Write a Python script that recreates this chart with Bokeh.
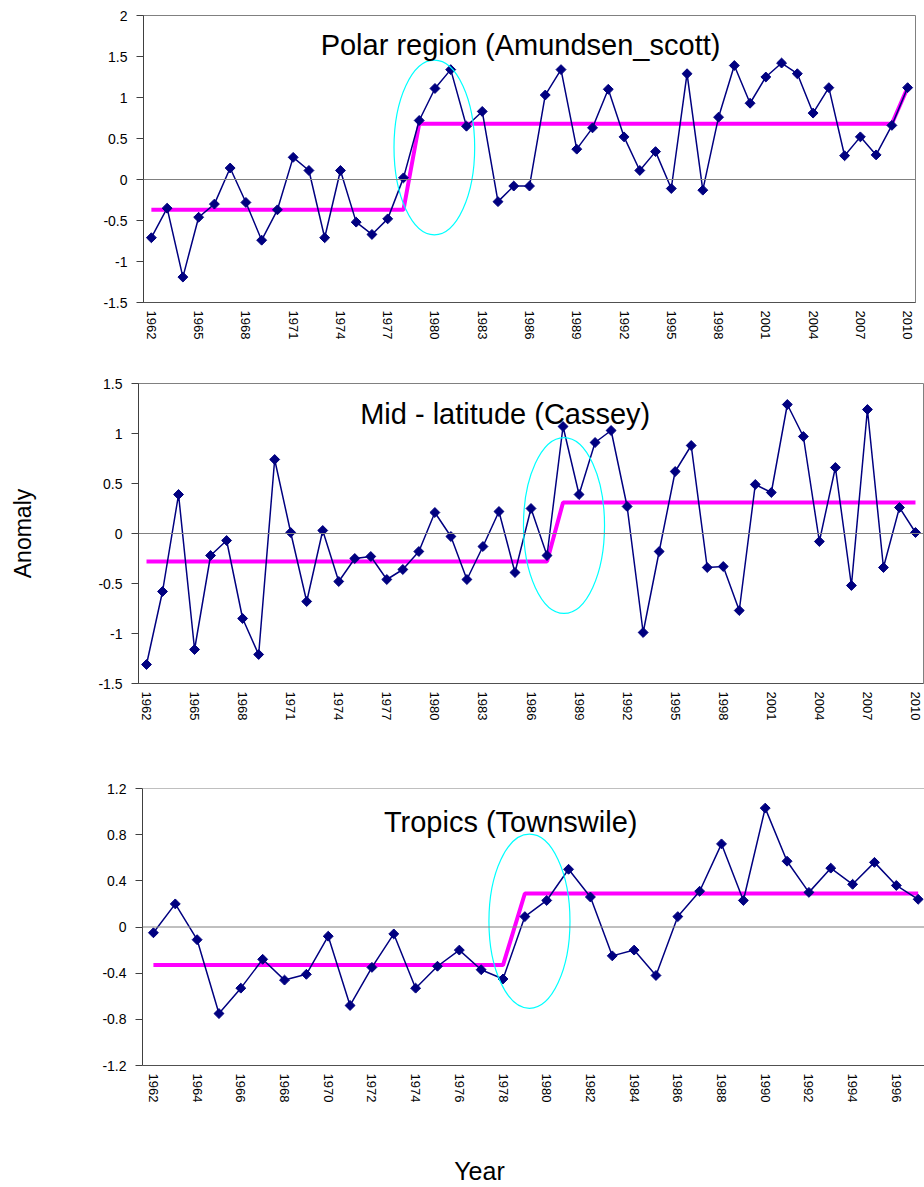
import math
from bokeh.plotting import figure
from bokeh.layouts import column
from bokeh.models import Range1d, FixedTicker, CustomJSTickFormatter, Span, Label
from bokeh.embed import file_html
from bokeh.resources import INLINE

# ---------------- data ----------------
years_long = list(range(1962, 2011))
years_trop = list(range(1962, 1998))

polar_vals = [-0.71, -0.35, -1.19, -0.46, -0.30, 0.14, -0.28, -0.74, -0.37, 0.27,
              0.11, -0.71, 0.11, -0.52, -0.67, -0.48, 0.02, 0.72, 1.11, 1.34,
              0.65, 0.83, -0.27, -0.08, -0.08, 1.03, 1.34, 0.37, 0.63, 1.10,
              0.52, 0.11, 0.34, -0.11, 1.29, -0.13, 0.76, 1.39, 0.93, 1.25,
              1.42, 1.29, 0.81, 1.12, 0.29, 0.52, 0.30, 0.66, 1.12]
mid_vals = [-1.31, -0.58, 0.39, -1.16, -0.22, -0.07, -0.85, -1.21, 0.74, 0.01,
            -0.68, 0.03, -0.48, -0.25, -0.23, -0.46, -0.36, -0.18, 0.21, -0.03,
            -0.46, -0.13, 0.22, -0.39, 0.25, -0.22, 1.07, 0.39, 0.91, 1.03,
            0.27, -0.99, -0.18, 0.62, 0.88, -0.34, -0.33, -0.77, 0.49, 0.41,
            1.29, 0.97, -0.08, 0.66, -0.52, 1.24, -0.34, 0.26, 0.01]
trop_vals = [-0.05, 0.20, -0.11, -0.75, -0.53, -0.28, -0.46, -0.41, -0.08, -0.68,
             -0.35, -0.06, -0.53, -0.34, -0.20, -0.37, -0.45, 0.09, 0.23, 0.50,
             0.26, -0.25, -0.20, -0.42, 0.09, 0.31, 0.72, 0.23, 1.03, 0.57,
             0.30, 0.51, 0.37, 0.56, 0.36, 0.24]

polar_step_x = [1962, 1978, 1979, 2009, 2010]
polar_step_y = [-0.37, -0.37, 0.68, 0.68, 1.12]
mid_step_x = [1962, 1987, 1988, 2010]
mid_step_y = [-0.28, -0.28, 0.31, 0.31]
trop_step_x = [1962, 1978, 1979, 1997]
trop_step_y = [-0.33, -0.33, 0.29, 0.29]

# highlighted change-point ellipses: centre year, centre value, width (years), height
polar_ell = [1979.96, 0.39, 5.12, 2.13]
mid_ell = [1988.06, 0.08, 5.06, 1.76]
trop_ell = [1979.21, 0.05, 3.71, 1.51]

titles = ["Polar region (Amundsen_scott)", "Mid - latitude (Cassey)", "Tropics (Townswile)"]
polar_yticks = [-1.5, -1, -0.5, 0, 0.5, 1, 1.5, 2]
mid_yticks = [-1.5, -1, -0.5, 0, 0.5, 1, 1.5]
trop_yticks = [-1.2, -0.8, -0.4, 0, 0.4, 0.8, 1.2]
long_xticks = list(range(1962, 2011, 3))
trop_xticks = list(range(1962, 1997, 2))

FONT = "Liberation Sans"
NAVY = "#000080"
MAG = "#FF00FF"
CYAN = "#00FFFF"


def make_panel(width, height, left, right, top, bottom, xr, yr, xticks, yticks, outline=True):
    p = figure(width=width, height=height, output_backend="svg", toolbar_location=None,
               x_range=Range1d(*xr), y_range=Range1d(*yr),
               min_border_left=left, min_border_right=right,
               min_border_top=top, min_border_bottom=bottom, frame_align=False)
    p.grid.visible = False
    p.background_fill_color = "white"
    p.border_fill_color = "white"
    p.outline_line_color = "#808080" if outline else None
    p.outline_line_width = 1
    fmt = CustomJSTickFormatter(code="return (Math.round(tick*100)/100).toString();")
    yax = p.yaxis[0]
    yax.ticker = FixedTicker(ticks=yticks)
    yax.formatter = fmt
    yax.major_tick_out = 7
    yax.major_tick_in = 0
    yax.minor_tick_line_color = None
    yax.axis_line_color = "#404040"
    yax.major_tick_line_color = "#404040"
    yax.major_label_text_font = FONT
    yax.major_label_text_font_size = "14px"
    yax.major_label_text_color = "black"
    yax.major_label_standoff = 9
    xax = p.xaxis[0]
    xax.ticker = FixedTicker(ticks=xticks)
    xax.formatter = CustomJSTickFormatter(code="return Math.round(tick).toString();")
    xax.major_tick_out = 0
    xax.major_tick_in = 0
    xax.minor_tick_line_color = None
    xax.axis_line_color = "#505050"
    xax.major_label_orientation = "vertical"
    xax.major_label_text_font = FONT
    xax.major_label_text_font_size = "13px"
    xax.major_label_text_color = "black"
    xax.major_label_standoff = 8
    p.add_layout(Span(location=0, dimension="width", line_color="#808080", line_width=1))
    return p


def draw_series(p, xs, ys, sx, sy, ell):
    p.line(sx, sy, line_color=MAG, line_width=4)
    p.line(xs, ys, line_color=NAVY, line_width=1.5)
    p.scatter(xs, ys, marker="square", angle=math.pi / 4, size=7,
              fill_color=NAVY, line_color=NAVY)
    p.ellipse(x=[ell[0]], y=[ell[1]], width=[ell[2]], height=[ell[3]],
              fill_color=None, line_color=CYAN, line_width=1.2)


def add_title(p, text, x, y):
    p.add_layout(Label(x=x, y=y, text=text, text_font=FONT, text_font_size="29px",
                       text_color="black", text_align="center", text_baseline="alphabetic"))


# Panel 1
p1 = make_panel(924, 345, 143, 9, 15, 43, (1961.5, 2010.5), (-1.5, 2),
                long_xticks, polar_yticks)
draw_series(p1, years_long, polar_vals, polar_step_x, polar_step_y, polar_ell)
add_title(p1, titles[0], 1985.43, 1.646)

# Panel 2
p2 = make_panel(924, 395, 138, 1, 38, 57, (1961.5, 2010.5), (-1.5, 1.5),
                long_xticks, mid_yticks)
draw_series(p2, years_long, mid_vals, mid_step_x, mid_step_y, mid_ell)
add_title(p2, titles[1], 1984.39, 1.2)
p2.yaxis[0].axis_label = "Anomaly"
p2.yaxis[0].axis_label_text_font = FONT
p2.yaxis[0].axis_label_text_font_size = "23px"
p2.yaxis[0].axis_label_text_font_style = "normal"
p2.yaxis[0].axis_label_text_color = "black"
p2.yaxis[0].axis_label_standoff = 59

# Panel 3
p3 = make_panel(924, 370, 142, 0, 48, 45, (1961.5, 1997.29), (-1.2, 1.2),
                trop_xticks, trop_yticks, outline=False)
p3.add_layout(Span(location=1.2, dimension="width", line_color="#808080", line_width=1))
draw_series(p3, years_trop, trop_vals, trop_step_x, trop_step_y, trop_ell)
add_title(p3, titles[2], 1978.35, 0.914)

# Shared x-axis title strip (frame covers the whole strip)
p4 = figure(width=924, height=77, output_backend="svg", toolbar_location=None,
            x_range=Range1d(0, 924), y_range=Range1d(0, 77), title=None,
            x_axis_type=None, y_axis_type=None, frame_align=False,
            min_border_left=0, min_border_right=0, min_border_top=0, min_border_bottom=0)
p4.grid.visible = False
p4.outline_line_color = None
p4.add_layout(Label(x=479, y=17, text="Year", text_font=FONT, text_font_size="25px",
                    text_color="black", text_align="center", text_baseline="alphabetic"))

layout = column(p1, p2, p3, p4, spacing=0)
open("out.html", "w").write(file_html(layout, INLINE))
